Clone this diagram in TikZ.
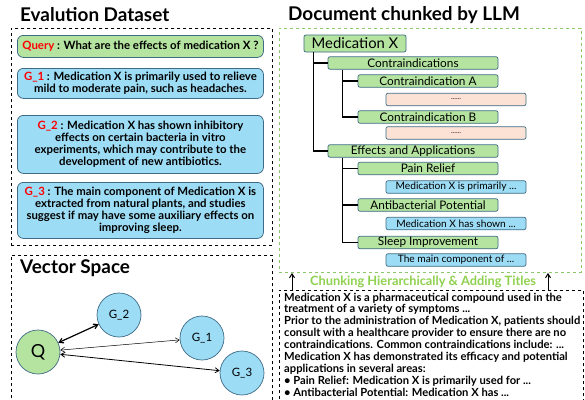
\documentclass[tikz,border=0pt]{standalone}
\usepackage{fontspec}
\setmainfont{Lato}
\usetikzlibrary{arrows.meta}

\definecolor{leafgreen}{HTML}{B4E4A0}
\definecolor{skyblue}{HTML}{9DDCF5}
\definecolor{peach}{HTML}{FBE2D5}
\definecolor{edgeblue}{HTML}{3E6B85}
\definecolor{dashgreen}{HTML}{8CC76A}
\definecolor{titlegreen}{HTML}{8FD14F}
\definecolor{labelred}{HTML}{FF0000}

\tikzset{
  frame/.style={draw=black, dashed, line width=0.7pt, anchor=north west, inner sep=0pt},
  gframe/.style={draw=dashgreen, dashed, line width=0.9pt, anchor=north west, inner sep=0pt},
  heading/.style={anchor=west, inner sep=0pt, font=\bfseries\fontsize{18.9}{21}\selectfont},
  evbox/.style={draw=edgeblue, line width=0.8pt, rounded corners=6pt, anchor=north west,
    minimum width=246pt, align=center, inner sep=0pt,
    font=\bfseries\fontsize{11.4}{12}\selectfont},
  tnode/.style={draw=edgeblue, line width=0.7pt, rounded corners=2pt, fill=leafgreen,
    minimum height=12.5pt, inner sep=0pt, font=\fontsize{11.8}{12}\selectfont},
  leaf/.style={tnode, fill=skyblue, minimum width=140pt, font=\fontsize{10.2}{11}\selectfont},
  stub/.style={tnode, fill=peach, minimum width=140pt, font=\fontsize{7}{8}\selectfont},
  treeline/.style={line width=1.1pt, black},
  vnode/.style={circle, draw=edgeblue, line width=0.7pt, fill=skyblue, minimum size=44pt,
    inner sep=0pt, font=\fontsize{11.5}{12}\selectfont}
}
\newcommand{\lbl}[1]{\textcolor{labelred}{#1}}

\begin{document}
\begin{tikzpicture}[x=1pt, y=-1pt, >={Straight Barb[length=4pt,width=5pt]}]
\useasboundingbox (0,0) rectangle (585,399);
\clip (0,0) rectangle (585,399);
\fill[white] (0,0) rectangle (585,399);

% ---------- Evaluation dataset ----------
\node[heading] (evtitle) at (20,15) {Evalution Dataset};
\node[frame, minimum width=261pt, minimum height=217pt] (evframe) at (11,28) {};

\node[evbox, fill=leafgreen, minimum height=22pt] (query) at (17,35)
  {\lbl{Query} : What are the effects of medication X ?};
\node[evbox, fill=skyblue, minimum height=30pt] (g1) at (17,68)
  {\lbl{G\_1} : Medication X is primarily used to relieve\\
   mild to moderate pain, such as headaches.};
\node[evbox, fill=skyblue, minimum height=58pt] (g2) at (17,115)
  {\lbl{G\_2} : Medication X has shown inhibitory\\
   effects on certain bacteria in vitro\\
   experiments, which may contribute to the\\
   development of new antibiotics.};
\node[evbox, fill=skyblue, minimum height=56pt] (g3) at (17,182)
  {\lbl{G\_3} : The main component of Medication X is\\
   extracted from natural plants, and studies\\
   suggest if may have some auxiliary effects on\\
   improving sleep.};

% ---------- Vector space ----------
\node[frame, minimum width=261pt, minimum height=160pt] (vsframe) at (11,255) {};
\node[heading] (vstitle) at (20,268) {Vector Space};

\node[vnode, fill=leafgreen, font=\fontsize{18}{19}\selectfont] (q) at (38,352) {Q};
\node[vnode] (v2) at (119,315) {G\_2};
\node[vnode] (v1) at (202,338) {G\_1};
\node[vnode] (v3) at (242,373) {G\_3};

\draw[<->, line width=1.2pt] (q) -- (v2);
\draw[<->, line width=0.5pt] (q) -- (v1);
\draw[<->, line width=0.8pt] (q) -- (v3);

% ---------- Hierarchical chunks ----------
\node[heading] (doctitle) at (288,15) {Document chunked by LLM};
\node[gframe, minimum width=302pt, minimum height=244pt] (docframe) at (279,28) {};

\node[tnode, minimum width=102pt, minimum height=17pt, font=\fontsize{14.8}{15}\selectfont]
  (medx) at (355,43.5) {Medication X};
\node[tnode, minimum width=170pt] (ci)   at (413,63)    {Contraindications};
\node[tnode, minimum width=140pt] (ciA)  at (428,81)    {Contraindication A};
\node[stub]                       (stA)  at (456,99.5)  {......};
\node[tnode, minimum width=140pt] (ciB)  at (428,117)   {Contraindication B};
\node[stub]                       (stB)  at (456,133)   {......};
\node[tnode, minimum width=170pt] (eff)  at (413,151)   {Effects and Applications};
\node[tnode, minimum width=140pt] (pain) at (428,168.5) {Pain Relief};
\node[leaf]                       (lf1)  at (456,187)   {Medication X is primarily ...};
\node[tnode, minimum width=140pt] (anti) at (428,205)   {Antibacterial Potential};
\node[leaf]                       (lf2)  at (456,223.5) {Medication X has shown ...};
\node[tnode, minimum width=140pt] (slp)  at (428,242.5) {Sleep Improvement};
\node[leaf]                       (lf3)  at (456,260)   {The main component of ...};

\draw[treeline] ([xshift=10pt]medx.south west) |- (ci.west);
\draw[treeline] ([xshift=10pt]medx.south west) |- (eff.west);
\draw[treeline] ([xshift=15pt]ci.south west) |- (ciA.west);
\draw[treeline] ([xshift=15pt]ci.south west) |- (ciB.west);
\draw[treeline] ([xshift=15pt]eff.south west) |- (pain.west);
\draw[treeline] ([xshift=15pt]eff.south west) |- (anti.west);
\draw[treeline] ([xshift=15pt]eff.south west) |- (slp.west);

% ---------- Source document ----------
\node[frame, minimum width=304pt, minimum height=120pt] (srcframe) at (279,290) {};
\node[anchor=north west, inner sep=0pt, align=left,
      font=\bfseries\fontsize{11.2}{11.9}\selectfont] (srctext) at (284,292.5)
  {Medication X is a pharmaceutical compound used in the\\
   treatment of a variety of symptoms ...\\
   Prior to the administration of Medication X, patients should\\
   consult with a healthcare provider to ensure there are no\\
   contraindications. Common contraindications include: ...\\
   Medication X has demonstrated its efficacy and potential\\
   applications in several areas:\\
   • Pain Relief: Medication X is primarily used for ...\\
   • Antibacterial Potential: Medication X has ...};

\node[inner sep=0pt, text=titlegreen, font=\bfseries\fontsize{12.8}{14}\selectfont]
  (chunk) at (423,282) {Chunking Hierarchically \& Adding Titles};
\draw[->, line width=1pt] ([xshift=13pt]srcframe.north west) -- ([xshift=13pt]docframe.south west);
\draw[->, line width=1pt] ([xshift=269pt]srcframe.north west) -- ([xshift=269pt]docframe.south west);
\end{tikzpicture}
\end{document}
